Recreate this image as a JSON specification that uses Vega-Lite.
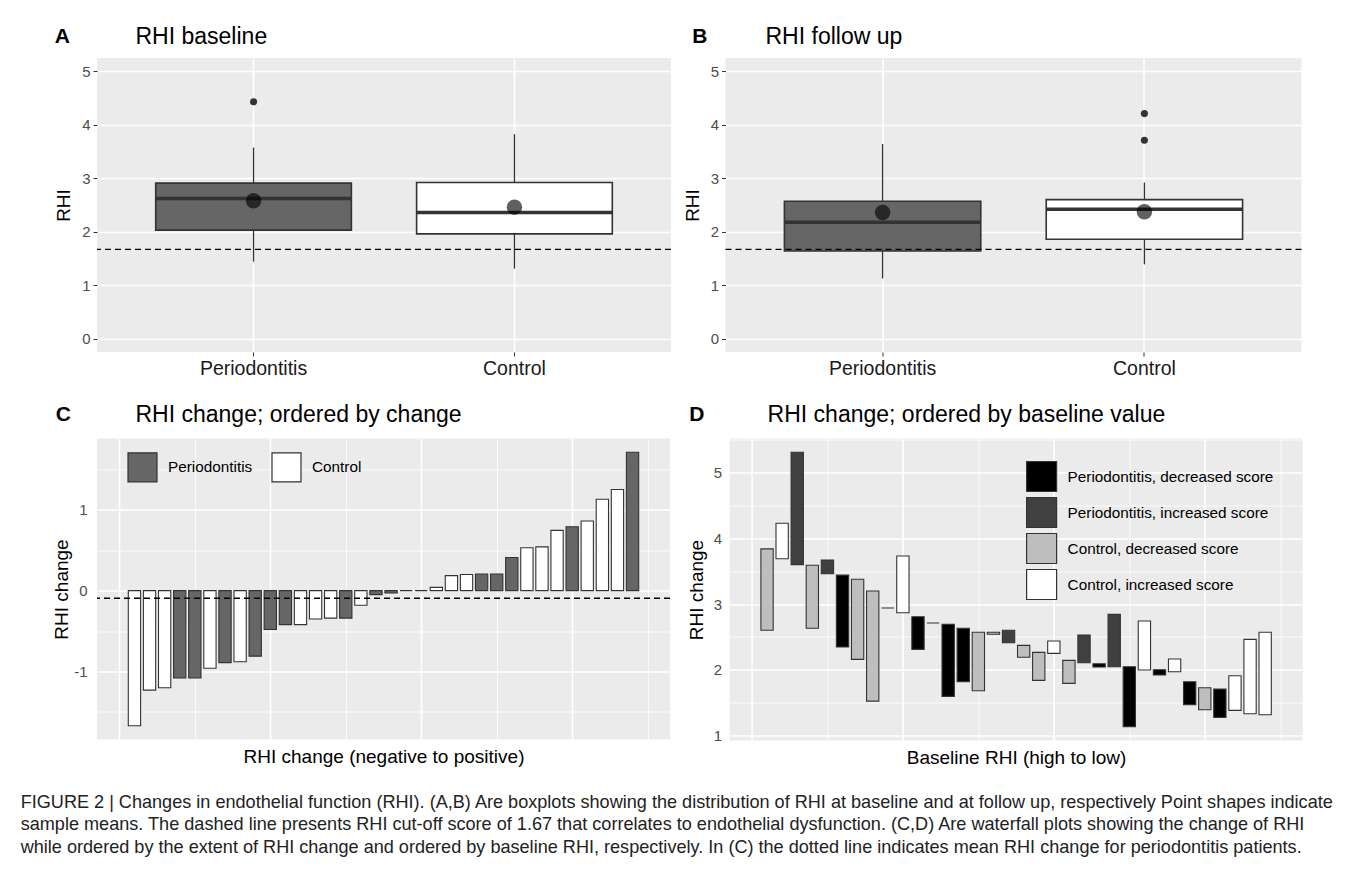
{
  "$schema": "https://vega.github.io/schema/vega-lite/v6.json",
  "background": "white",
  "padding": {"left": 20, "top": 25, "right": 10, "bottom": 10},
  "config": {
    "font": "Liberation Sans",
    "view": {"fill": "#EBEBEB", "stroke": null},
    "axis": {"domain": false, "gridColor": "#FFFFFF", "labelColor": "#4D4D4D", "labelFontSize": 15, "tickColor": "#333333", "titleFontWeight": "normal", "titleColor": "#000000", "titleFontSize": 19},
    "title": {"anchor": "start", "frame": "group", "color": "#000000", "fontSize": 23, "fontWeight": "normal", "offset": 9.5},
    "legend": {"labelFontSize": 15.3, "labelColor": "#000000", "symbolStrokeColor": "#333333", "symbolStrokeWidth": 1.2, "symbolType": "square", "symbolOpacity": 1, "labelLimit": 400}
  },
  "datasets": {
    "boxA": [
      {"group": "Periodontitis", "lower": 1.44, "q1": 2.03, "median": 2.62, "q3": 2.91, "upper": 3.575, "mean": 2.58},
      {"group": "Control", "lower": 1.31, "q1": 1.96, "median": 2.36, "q3": 2.92, "upper": 3.825, "mean": 2.46}
    ],
    "outA": [{"group": "Periodontitis", "value": 4.43}],
    "boxB": [
      {"group": "Periodontitis", "lower": 1.125, "q1": 1.64, "median": 2.175, "q3": 2.57, "upper": 3.64, "mean": 2.36},
      {"group": "Control", "lower": 1.39, "q1": 1.86, "median": 2.42, "q3": 2.6, "upper": 2.92, "mean": 2.375}
    ],
    "outB": [{"group": "Control", "value": 4.21}, {"group": "Control", "value": 3.71}],
    "waterC": [
      {"rank": 1, "change": -1.67, "group": "Control"},
      {"rank": 2, "change": -1.23, "group": "Control"},
      {"rank": 3, "change": -1.2, "group": "Control"},
      {"rank": 4, "change": -1.08, "group": "Periodontitis"},
      {"rank": 5, "change": -1.08, "group": "Periodontitis"},
      {"rank": 6, "change": -0.96, "group": "Control"},
      {"rank": 7, "change": -0.89, "group": "Periodontitis"},
      {"rank": 8, "change": -0.88, "group": "Control"},
      {"rank": 9, "change": -0.81, "group": "Periodontitis"},
      {"rank": 10, "change": -0.48, "group": "Periodontitis"},
      {"rank": 11, "change": -0.42, "group": "Periodontitis"},
      {"rank": 12, "change": -0.42, "group": "Control"},
      {"rank": 13, "change": -0.35, "group": "Control"},
      {"rank": 14, "change": -0.34, "group": "Control"},
      {"rank": 15, "change": -0.34, "group": "Periodontitis"},
      {"rank": 16, "change": -0.18, "group": "Control"},
      {"rank": 17, "change": -0.05, "group": "Periodontitis"},
      {"rank": 18, "change": -0.03, "group": "Periodontitis"},
      {"rank": 19, "change": 0, "group": "Periodontitis"},
      {"rank": 20, "change": 0, "group": "Control"},
      {"rank": 21, "change": 0.04, "group": "Control"},
      {"rank": 22, "change": 0.185, "group": "Control"},
      {"rank": 23, "change": 0.2, "group": "Control"},
      {"rank": 24, "change": 0.205, "group": "Periodontitis"},
      {"rank": 25, "change": 0.205, "group": "Periodontitis"},
      {"rank": 26, "change": 0.41, "group": "Periodontitis"},
      {"rank": 27, "change": 0.53, "group": "Control"},
      {"rank": 28, "change": 0.54, "group": "Control"},
      {"rank": 29, "change": 0.745, "group": "Control"},
      {"rank": 30, "change": 0.79, "group": "Periodontitis"},
      {"rank": 31, "change": 0.86, "group": "Control"},
      {"rank": 32, "change": 1.13, "group": "Control"},
      {"rank": 33, "change": 1.25, "group": "Control"},
      {"rank": 34, "change": 1.71, "group": "Periodontitis"}
    ],
    "waterD": [
      {"rank": 1, "base": 3.84, "follow": 2.6, "cat": "Control, decreased score"},
      {"rank": 2, "base": 3.69, "follow": 4.23, "cat": "Control, increased score"},
      {"rank": 3, "base": 3.6, "follow": 5.31, "cat": "Periodontitis, increased score"},
      {"rank": 4, "base": 3.59, "follow": 2.63, "cat": "Control, decreased score"},
      {"rank": 5, "base": 3.46, "follow": 3.67, "cat": "Periodontitis, increased score"},
      {"rank": 6, "base": 3.44, "follow": 2.345, "cat": "Periodontitis, decreased score"},
      {"rank": 7, "base": 3.376, "follow": 2.157, "cat": "Control, decreased score"},
      {"rank": 8, "base": 3.198, "follow": 1.522, "cat": "Control, decreased score"},
      {"rank": 9, "base": 2.94, "follow": 2.94, "cat": "Control, decreased score"},
      {"rank": 10, "base": 2.867, "follow": 3.73, "cat": "Control, increased score"},
      {"rank": 11, "base": 2.807, "follow": 2.31, "cat": "Periodontitis, decreased score"},
      {"rank": 12, "base": 2.71, "follow": 2.71, "cat": "Periodontitis, decreased score"},
      {"rank": 13, "base": 2.69, "follow": 1.594, "cat": "Periodontitis, decreased score"},
      {"rank": 14, "base": 2.63, "follow": 1.816, "cat": "Periodontitis, decreased score"},
      {"rank": 15, "base": 2.569, "follow": 1.679, "cat": "Control, decreased score"},
      {"rank": 16, "base": 2.57, "follow": 2.54, "cat": "Control, decreased score"},
      {"rank": 17, "base": 2.41, "follow": 2.6, "cat": "Periodontitis, increased score"},
      {"rank": 18, "base": 2.37, "follow": 2.19, "cat": "Control, decreased score"},
      {"rank": 19, "base": 2.264, "follow": 1.838, "cat": "Control, decreased score"},
      {"rank": 20, "base": 2.249, "follow": 2.436, "cat": "Control, increased score"},
      {"rank": 21, "base": 2.142, "follow": 1.792, "cat": "Control, decreased score"},
      {"rank": 22, "base": 2.106, "follow": 2.528, "cat": "Periodontitis, increased score"},
      {"rank": 23, "base": 2.09, "follow": 2.04, "cat": "Periodontitis, decreased score"},
      {"rank": 24, "base": 2.045, "follow": 2.843, "cat": "Periodontitis, increased score"},
      {"rank": 25, "base": 2.045, "follow": 1.131, "cat": "Periodontitis, decreased score"},
      {"rank": 26, "base": 1.995, "follow": 2.741, "cat": "Control, increased score"},
      {"rank": 27, "base": 2.0, "follow": 1.92, "cat": "Periodontitis, decreased score"},
      {"rank": 28, "base": 1.969, "follow": 2.162, "cat": "Control, increased score"},
      {"rank": 29, "base": 1.816, "follow": 1.466, "cat": "Periodontitis, decreased score"},
      {"rank": 30, "base": 1.725, "follow": 1.39, "cat": "Control, decreased score"},
      {"rank": 31, "base": 1.705, "follow": 1.274, "cat": "Periodontitis, decreased score"},
      {"rank": 32, "base": 1.381, "follow": 1.908, "cat": "Control, increased score"},
      {"rank": 33, "base": 1.329, "follow": 2.462, "cat": "Control, increased score"},
      {"rank": 34, "base": 1.314, "follow": 2.569, "cat": "Control, increased score"}
    ]
  },
  "title": {
    "text": [
      "FIGURE 2 | Changes in endothelial function (RHI). (A,B) Are boxplots showing the distribution of RHI at baseline and at follow up, respectively Point shapes indicate",
      "sample means. The dashed line presents RHI cut-off score of 1.67 that correlates to endothelial dysfunction. (C,D) Are waterfall plots showing the change of RHI",
      "while ordered by the extent of RHI change and ordered by baseline RHI, respectively. In (C) the dotted line indicates mean RHI change for periodontitis patients."
    ],
    "orient": "bottom", "anchor": "start", "frame": "bounds", "fontSize": 18.1, "fontWeight": "normal", "color": "#222222", "lineHeight": 22.5, "dx": -32, "offset": 26
  },
  "spacing": 25.5,
  "resolve": {"scale": {"fill": "independent"}, "legend": {"fill": "independent"}},
  "vconcat": [
    {
      "spacing": 10.5,
      "hconcat": [
        {
          "title": {"text": "A", "frame": "bounds", "fontSize": 21, "fontWeight": "bold", "dx": 0, "offset": -21},
          "vconcat": [
            {
              "width": 574, "height": 294,
              "title": {"text": "RHI baseline", "dx": 38.5},
              "layer": [
                {"data": {"name": "boxA"}, "mark": {"type": "rule", "stroke": "#333333", "strokeWidth": 1.3},
                 "encoding": {
                   "x": {"field": "group", "type": "nominal", "sort": ["Periodontitis", "Control"], "scale": {"type": "band", "paddingInner": 0.25, "paddingOuter": 0.225}, "axis": {"title": null, "labelAngle": 0, "labelFontSize": 19.5, "labelColor": "#1A1A1A", "grid": true, "gridWidth": 1.6, "bandPosition": 0.5, "tickSize": 4, "labelPadding": 3}},
                   "y": {"field": "lower", "type": "quantitative", "scale": {"domain": [-0.25, 5.25], "nice": false, "zero": false}, "axis": {"title": "RHI", "values": [0, 0.5, 1, 1.5, 2, 2.5, 3, 3.5, 4, 4.5, 5], "labelExpr": "datum.value % 1 === 0 ? '' + datum.value : ''", "tickOpacity": {"condition": {"test": "datum.value % 1 !== 0", "value": 0}, "value": 1}, "gridWidth": {"condition": {"test": "datum.value % 1 !== 0", "value": 0.8}, "value": 1.6}, "tickSize": 4, "labelPadding": 3, "titlePadding": 8}},
                   "y2": {"field": "upper"}
                 }},
                {"data": {"name": "boxA"}, "mark": {"type": "bar", "stroke": "#333333", "strokeWidth": 1.6},
                 "encoding": {
                   "x": {"field": "group", "type": "nominal", "sort": ["Periodontitis", "Control"]},
                   "y": {"field": "q1", "type": "quantitative"}, "y2": {"field": "q3"},
                   "fill": {"field": "group", "type": "nominal", "scale": {"domain": ["Periodontitis", "Control"], "range": ["#666666", "#FFFFFF"]}, "legend": null}
                 }},
                {"data": {"name": "boxA"}, "mark": {"type": "tick", "orient": "horizontal", "size": 196, "thickness": 3.5, "color": "#333333", "opacity": 1},
                 "encoding": {"x": {"field": "group", "type": "nominal", "sort": ["Periodontitis", "Control"]}, "y": {"field": "median", "type": "quantitative"}}},
                {"data": {"name": "boxA"}, "mark": {"type": "point", "filled": true, "size": 240, "color": "#000000", "opacity": 0.62},
                 "encoding": {"x": {"field": "group", "type": "nominal", "sort": ["Periodontitis", "Control"]}, "y": {"field": "mean", "type": "quantitative"}}},
                {"data": {"name": "outA"}, "mark": {"type": "point", "filled": true, "size": 50, "color": "#333333", "opacity": 1},
                 "encoding": {"x": {"field": "group", "type": "nominal", "sort": ["Periodontitis", "Control"]}, "y": {"field": "value", "type": "quantitative"}}},
                {"data": {"values": [{}]}, "mark": {"type": "rule", "stroke": "#000000", "strokeWidth": 1.4, "strokeDash": [6, 4]},
                 "encoding": {"y": {"datum": 1.67}}}
              ]
            }
          ]
        },
        {
          "title": {"text": "B", "frame": "bounds", "fontSize": 21, "fontWeight": "bold", "dx": 9, "offset": -21},
          "vconcat": [
            {
              "width": 576, "height": 294,
              "title": {"text": "RHI follow up", "dx": 40},
              "layer": [
                {"data": {"name": "boxB"}, "mark": {"type": "rule", "stroke": "#333333", "strokeWidth": 1.3},
                 "encoding": {
                   "x": {"field": "group", "type": "nominal", "sort": ["Periodontitis", "Control"], "scale": {"type": "band", "paddingInner": 0.25, "paddingOuter": 0.225}, "axis": {"title": null, "labelAngle": 0, "labelFontSize": 19.5, "labelColor": "#1A1A1A", "grid": true, "gridWidth": 1.6, "bandPosition": 0.5, "tickSize": 4, "labelPadding": 3}},
                   "y": {"field": "lower", "type": "quantitative", "scale": {"domain": [-0.25, 5.25], "nice": false, "zero": false}, "axis": {"title": "RHI", "values": [0, 0.5, 1, 1.5, 2, 2.5, 3, 3.5, 4, 4.5, 5], "labelExpr": "datum.value % 1 === 0 ? '' + datum.value : ''", "tickOpacity": {"condition": {"test": "datum.value % 1 !== 0", "value": 0}, "value": 1}, "gridWidth": {"condition": {"test": "datum.value % 1 !== 0", "value": 0.8}, "value": 1.6}, "tickSize": 4, "labelPadding": 3, "titlePadding": 8}},
                   "y2": {"field": "upper"}
                 }},
                {"data": {"name": "boxB"}, "mark": {"type": "bar", "stroke": "#333333", "strokeWidth": 1.6},
                 "encoding": {
                   "x": {"field": "group", "type": "nominal", "sort": ["Periodontitis", "Control"]},
                   "y": {"field": "q1", "type": "quantitative"}, "y2": {"field": "q3"},
                   "fill": {"field": "group", "type": "nominal", "scale": {"domain": ["Periodontitis", "Control"], "range": ["#666666", "#FFFFFF"]}, "legend": null}
                 }},
                {"data": {"name": "boxB"}, "mark": {"type": "tick", "orient": "horizontal", "size": 196, "thickness": 3.5, "color": "#333333", "opacity": 1},
                 "encoding": {"x": {"field": "group", "type": "nominal", "sort": ["Periodontitis", "Control"]}, "y": {"field": "median", "type": "quantitative"}}},
                {"data": {"name": "boxB"}, "mark": {"type": "point", "filled": true, "size": 240, "color": "#000000", "opacity": 0.62},
                 "encoding": {"x": {"field": "group", "type": "nominal", "sort": ["Periodontitis", "Control"]}, "y": {"field": "mean", "type": "quantitative"}}},
                {"data": {"name": "outB"}, "mark": {"type": "point", "filled": true, "size": 50, "color": "#333333", "opacity": 1},
                 "encoding": {"x": {"field": "group", "type": "nominal", "sort": ["Periodontitis", "Control"]}, "y": {"field": "value", "type": "quantitative"}}},
                {"data": {"values": [{}]}, "mark": {"type": "rule", "stroke": "#000000", "strokeWidth": 1.4, "strokeDash": [6, 4]},
                 "encoding": {"y": {"datum": 1.67}}}
              ]
            }
          ]
        }
      ]
    },
    {
      "spacing": 15.6,
      "resolve": {"scale": {"fill": "independent"}, "legend": {"fill": "independent"}},
      "hconcat": [
        {
          "title": {"text": "C", "frame": "bounds", "fontSize": 21, "fontWeight": "bold", "dx": 3, "offset": -21},
          "vconcat": [
            {
              "width": 573, "height": 301,
              "title": {"text": "RHI change; ordered by change", "dx": 38.5, "offset": 12},
              "layer": [
                {"data": {"name": "waterC"}, "mark": {"type": "bar", "orient": "vertical", "width": 12.3, "stroke": "#333333", "strokeWidth": 1.1},
                 "encoding": {
                   "x": {"field": "rank", "type": "quantitative", "scale": {"domain": [-1.15, 36.15], "nice": false, "zero": false}, "axis": {"title": "RHI change (negative to positive)", "values": [0, 5, 10, 15, 20, 25, 30, 35], "labels": false, "ticks": false, "gridWidth": {"condition": {"test": "datum.value % 10 !== 0", "value": 0.8}, "value": 1.6}, "titlePadding": 8}},
                   "y": {"field": "change", "type": "quantitative", "scale": {"domain": [-1.84, 1.88], "nice": false, "zero": false}, "axis": {"title": "RHI change", "values": [-1.5, -1, -0.5, 0, 0.5, 1, 1.5], "labelExpr": "datum.value % 1 === 0 ? '' + datum.value : ''", "ticks": false, "gridWidth": {"condition": {"test": "datum.value % 1 !== 0", "value": 0.8}, "value": 1.6}, "labelPadding": 10, "titlePadding": 2}},
                   "y2": {"datum": 0},
                   "fill": {"field": "group", "type": "nominal", "scale": {"domain": ["Periodontitis", "Control"], "range": ["#666666", "#FFFFFF"]}, "legend": {"title": null, "orient": "none", "legendX": 30, "legendY": 13, "direction": "horizontal", "symbolSize": 841, "labelOffset": 10, "columnPadding": 16}}
                 }},
                {"data": {"values": [{}]}, "mark": {"type": "rule", "stroke": "#000000", "strokeWidth": 1.4, "strokeDash": [6, 4]},
                 "encoding": {"y": {"datum": -0.095}}}
              ]
            }
          ]
        },
        {
          "title": {"text": "D", "frame": "bounds", "fontSize": 21, "fontWeight": "bold", "dx": 2, "offset": -21},
          "vconcat": [
            {
              "width": 573, "height": 302,
              "title": {"text": "RHI change; ordered by baseline value", "dx": 38, "offset": 12},
              "data": {"name": "waterD"},
              "mark": {"type": "bar", "orient": "vertical", "width": 12.3, "stroke": "#333333", "strokeWidth": 1.1},
              "encoding": {
                "x": {"field": "rank", "type": "quantitative", "scale": {"domain": [-1.15, 36.15], "nice": false, "zero": false}, "axis": {"title": "Baseline RHI (high to low)", "values": [0, 5, 10, 15, 20, 25, 30, 35], "labels": false, "ticks": false, "gridWidth": {"condition": {"test": "datum.value % 10 !== 0", "value": 0.8}, "value": 1.6}, "titlePadding": 8}},
                "y": {"field": "base", "type": "quantitative", "scale": {"domain": [0.922, 5.52], "nice": false, "zero": false}, "axis": {"title": "RHI change", "values": [1, 1.5, 2, 2.5, 3, 3.5, 4, 4.5, 5, 5.5], "labelExpr": "datum.value % 1 === 0 ? '' + datum.value : ''", "ticks": false, "gridWidth": {"condition": {"test": "datum.value % 1 !== 0", "value": 0.8}, "value": 1.6}, "labelPadding": 8, "titlePadding": 7}},
                "y2": {"field": "follow"},
                "fill": {"field": "cat", "type": "nominal", "scale": {"domain": ["Periodontitis, decreased score", "Periodontitis, increased score", "Control, decreased score", "Control, increased score"], "range": ["#000000", "#404040", "#BEBEBE", "#FFFFFF"]}, "legend": {"title": null, "orient": "none", "legendX": 296, "legendY": 22, "direction": "vertical", "symbolSize": 900, "rowPadding": 0, "labelOffset": 10}}
              }
            }
          ]
        }
      ]
    }
  ]
}
